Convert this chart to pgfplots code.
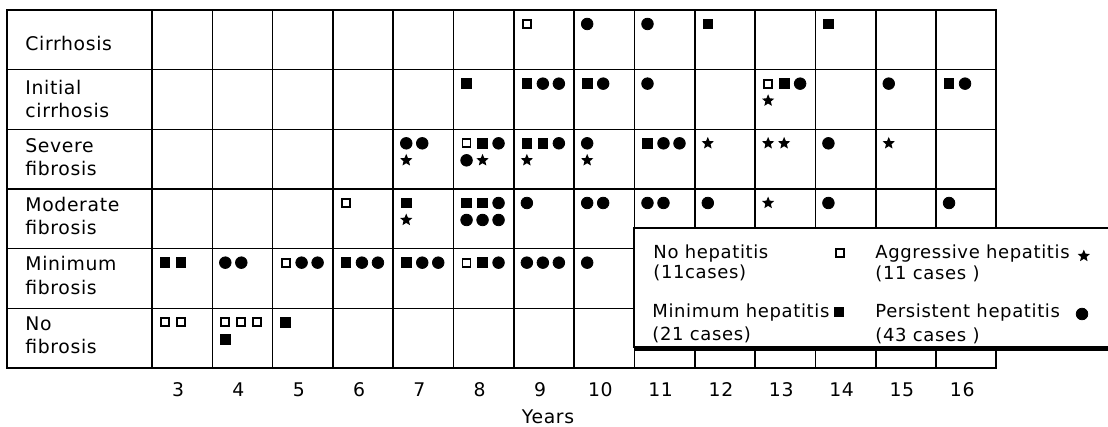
\documentclass[border=0pt]{standalone}
\usepackage{pgfplots}
\pgfplotsset{compat=1.18}
\usepackage{pgfplotstable}
\usepackage{fontspec}
\setmainfont{DejaVu Sans}[LetterSpace=3.5]
\newcommand\lf{\fontsize{9.4}{11}\selectfont}
\newcommand\legf{\fontsize{9.0}{11}\selectfont}

\pgfdeclareplotmark{fstar}{%
  \pgfpathmoveto{\pgfqpointpolar{90}{\pgfplotmarksize}}%
  \pgfpathlineto{\pgfqpointpolar{126}{0.45\pgfplotmarksize}}%
  \pgfpathlineto{\pgfqpointpolar{162}{\pgfplotmarksize}}%
  \pgfpathlineto{\pgfqpointpolar{198}{0.45\pgfplotmarksize}}%
  \pgfpathlineto{\pgfqpointpolar{234}{\pgfplotmarksize}}%
  \pgfpathlineto{\pgfqpointpolar{270}{0.45\pgfplotmarksize}}%
  \pgfpathlineto{\pgfqpointpolar{306}{\pgfplotmarksize}}%
  \pgfpathlineto{\pgfqpointpolar{342}{0.45\pgfplotmarksize}}%
  \pgfpathlineto{\pgfqpointpolar{18}{\pgfplotmarksize}}%
  \pgfpathlineto{\pgfqpointpolar{54}{0.45\pgfplotmarksize}}%
  \pgfpathclose\pgfusepathqfill}

% year, row (0 = No fibrosis ... 5 = Cirrhosis), slot j in the line, line k in the cell
\pgfplotstableread{
year row j k
9 5 0 0
13 4 0 0
8 3 0 0
6 2 0 0
5 1 0 0
8 1 0 0
3 0 0 0
3 0 1 0
4 0 0 0
4 0 1 0
4 0 2 0
}\nohep
\pgfplotstableread{
year row j k
12 5 0 0
14 5 0 0
8 4 0 0
9 4 0 0
10 4 0 0
13 4 1 0
16 4 0 0
8 3 1 0
9 3 0 0
9 3 1 0
11 3 0 0
7 2 0 0
8 2 0 0
8 2 1 0
3 1 0 0
3 1 1 0
6 1 0 0
7 1 0 0
8 1 1 0
4 0 0 1
5 0 0 0
}\minhep
\pgfplotstableread{
year row j k
13 4 0 1
7 3 0 1
8 3 1 1
9 3 0 1
10 3 0 1
12 3 0 0
13 3 0 0
13 3 1 0
15 3 0 0
7 2 0 1
13 2 0 0
}\agghep
\pgfplotstableread{
year row j k
10 5 0 0
11 5 0 0
9 4 1 0
9 4 2 0
10 4 1 0
11 4 0 0
13 4 2 0
15 4 0 0
16 4 1 0
7 3 0 0
7 3 1 0
8 3 2 0
8 3 0 1
9 3 2 0
10 3 0 0
11 3 1 0
11 3 2 0
14 3 0 0
8 2 2 0
8 2 0 1
8 2 1 1
8 2 2 1
9 2 0 0
10 2 0 0
10 2 1 0
11 2 0 0
11 2 1 0
12 2 0 0
14 2 0 0
16 2 0 0
4 1 0 0
4 1 1 0
5 1 1 0
5 1 2 0
6 1 1 0
6 1 2 0
7 1 1 0
7 1 2 0
8 1 2 0
9 1 0 0
9 1 1 0
9 1 2 0
10 1 0 0
}\perhep

\pgfplotsset{
  table/cellpos/.style={x expr=\thisrow{year}-0.5+(13+16*\thisrow{j})/60.31,
                  y expr=\thisrow{row}+1-(14+17*\thisrow{k})/59.67},
  mNo/.style={only marks, black, mark=square, mark size=2.0pt, mark options={line width=0.9pt, fill=white}},
  mMin/.style={only marks, black, mark=square*, mark size=2.4pt},
  mAgg/.style={only marks, black, mark=fstar, mark size=3.2pt},
  mPer/.style={only marks, black, mark=*, mark size=2.9pt},
}
\tikzset{lab/.style={font=\lf, anchor=base west, inner sep=0pt},
         leg/.style={font=\legf, anchor=base west, inner sep=0pt}}

\begin{document}
\begin{tikzpicture}
\begin{axis}[
  x=30.155pt, y=29.835pt,
  xmin=0.096, xmax=16.5, ymin=0, ymax=6,
  axis line style={line width=1pt},
  xtick={3,...,16}, ytick={1,...,5}, yticklabels={},
  yticklabel style={inner sep=0pt, outer sep=0pt},
  major tick length=0pt,
  ymajorgrids,
  grid style={line width=0.8pt, black},
  extra x ticks={2.5,3.5,...,15.5}, extra x tick labels={},
  extra x tick style={grid=major},
  xticklabel style={font=\lf, anchor=north, inner sep=0pt, yshift=-7pt, xshift=-2pt},
  /pgf/number format/assume math mode=true,
  clip=false,
]
\addplot[mNo] table[cellpos] {\nohep};
\addplot[mMin] table[cellpos] {\minhep};
\addplot[mAgg] table[cellpos] {\agghep};
\addplot[mPer] table[cellpos] {\perhep};

% row labels
\node[lab] at (axis cs:0.394,5.329) {Cirrhosis};
\node[lab] at (axis cs:0.394,4.590) {Initial};
\node[lab] at (axis cs:0.394,4.205) {cirrhosis};
\node[lab] at (axis cs:0.394,3.615) {Severe};
\node[lab] at (axis cs:0.394,3.230) {fibrosis};
\node[lab] at (axis cs:0.394,2.625) {Moderate};
\node[lab] at (axis cs:0.394,2.240) {fibrosis};
\node[lab] at (axis cs:0.394,1.630) {Minimum};
\node[lab] at (axis cs:0.394,1.230) {fibrosis};
\node[lab] at (axis cs:0.394,0.630) {No};
\node[lab] at (axis cs:0.394,0.245) {fibrosis};

\node[font=\lf, inner sep=0pt] at (axis cs:9.066,-0.821) {Years};

% legend box
\fill[white] (axis cs:10.492,0.335) rectangle (axis cs:18.351,2.346);
\draw[line width=1pt] (axis cs:18.351,2.346) -- (axis cs:10.492,2.346) -- (axis cs:10.492,0.335);
\draw[line width=2.5pt] (axis cs:10.492,0.335) -- (axis cs:18.351,0.335);

\node[leg] at (axis cs:10.807,1.843) {No hepatitis};
\node[leg] at (axis cs:10.807,1.508) {(11cases)};
\node[leg] at (axis cs:14.488,1.843) {Aggressive hepatitis};
\node[leg] at (axis cs:14.488,1.475) {(11 cases )};
\node[leg] at (axis cs:10.790,0.838) {Minimum hepatitis};
\node[leg] at (axis cs:10.790,0.469) {(21 cases)};
\node[leg] at (axis cs:14.488,0.838) {Persistent hepatitis};
\node[leg] at (axis cs:14.488,0.436) {(43 cases )};

\addplot[mNo] coordinates {(13.908,1.927)};
\addplot[mMin] coordinates {(13.890,0.938)};
\addplot[mAgg] coordinates {(17.950,1.877)};
\addplot[mPer] coordinates {(17.920,0.905)};

% extent of the picture
\coordinate (bbA) at (axis cs:-0.020,6.167);
\coordinate (bbB) at (axis cs:18.351,-0.972);
\end{axis}
\pgfresetboundingbox
\path[use as bounding box] (bbA) rectangle (bbB);
\end{tikzpicture}
\end{document}
